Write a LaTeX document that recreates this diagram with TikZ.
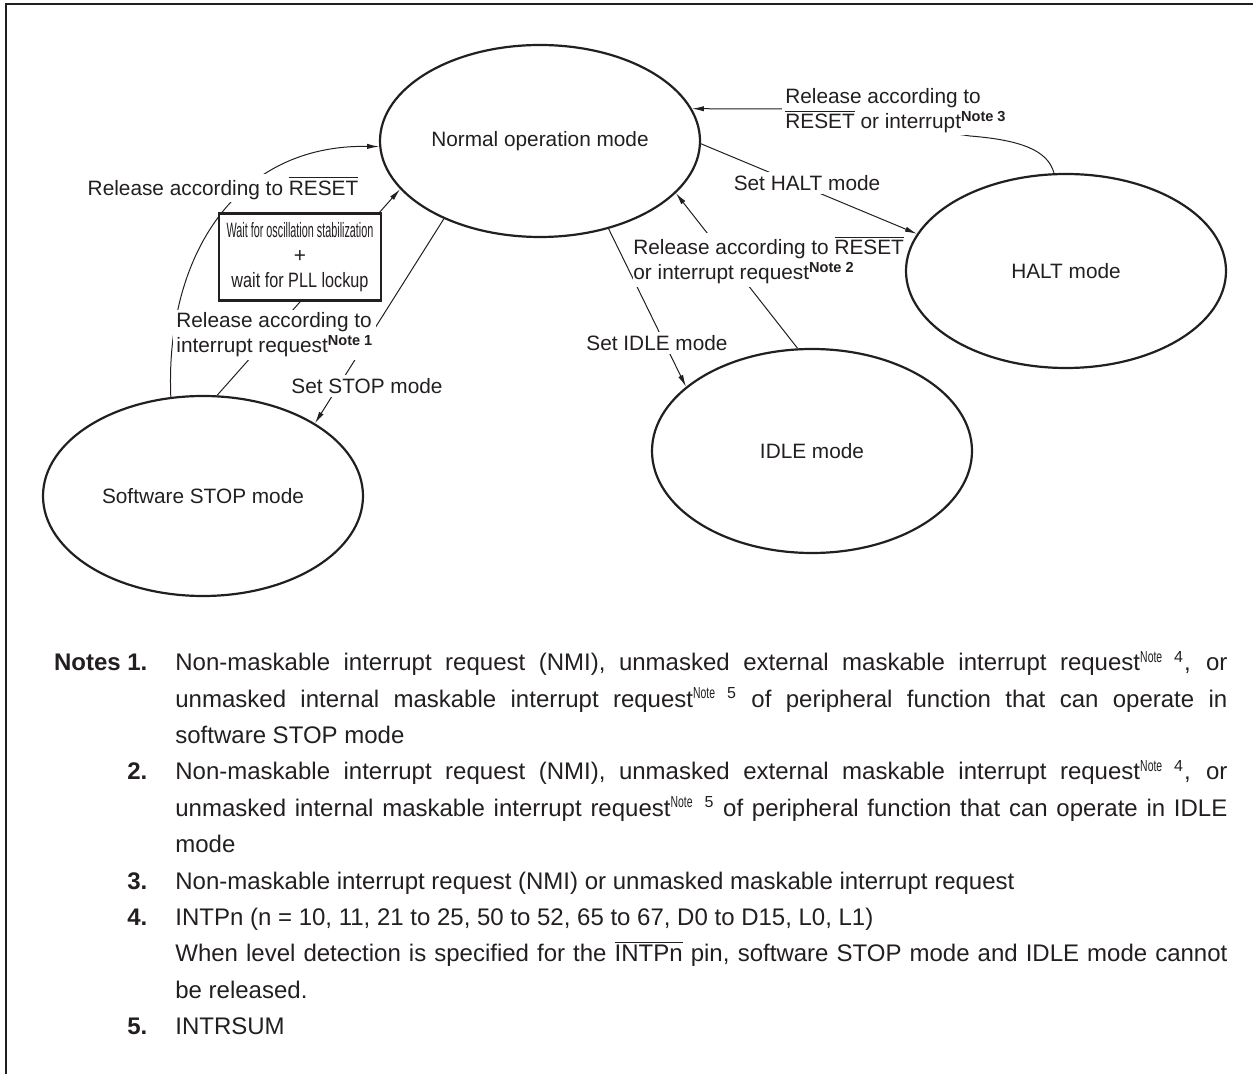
\documentclass[tikz,border=0pt]{standalone}
\usepackage{fontspec}
\setmainfont{Liberation Sans}
\usepackage{graphicx}
\usepackage{tikz}
\usetikzlibrary{positioning,arrows.meta,shapes.geometric}
\definecolor{ink}{HTML}{231F20}
\newcommand{\rst}{$\overline{\mbox{RESET}}$}
\newcommand{\ovlintp}{$\overline{\mbox{INTPn}}$}
\newcommand{\dnote}[1]{\textsuperscript{\bfseries Note~#1}}
\newcommand{\tnote}[1]{\textsuperscript{\scalebox{.65}[1]{Note}\hspace{6pt}#1}}
\newcommand{\noteitem}[2]{%
  \par\hangindent=61pt\hangafter=1\noindent\makebox[47pt][r]{\bfseries #1}\hspace{14pt}#2}
\newcommand{\notecont}[1]{%
  \par\hangindent=61pt\hangafter=0\noindent #1}
\tikzset{
  mode/.style={ellipse,draw=ink,line width=1.1pt,minimum width=160pt,inner sep=0pt,
    font=\fontsize{10.4}{12.5}\selectfont},
  conn/.style={draw=ink,line width=0.5pt},
  arr/.style={conn,-{Latex[length=6pt,width=2.6pt]}},
  lbl/.style={fill=white,inner sep=1.5pt,font=\fontsize{10.4}{12.5}\selectfont},
  waitbox/.style={draw=ink,line width=1.2pt,fill=white,minimum width=81pt,minimum height=43.5pt,
    inner sep=0pt,align=center,font=\fontsize{10.4}{12.5}\selectfont},
  notes/.style={text width=587pt,align=justify,inner sep=0pt,font=\fontsize{12}{18.2}\selectfont}
}

\begin{document}
\begin{tikzpicture}[x=0.5pt,y=-0.5pt,text=ink]
  \useasboundingbox (0,0) rectangle (1253,1074);
  % frame
  \draw[ink,line width=1.2pt] (1260,4) -- (6,4) -- (6,1080);
  % modes
  \node[mode,minimum height=96pt] (normal) at (540,141) {Normal operation mode};
  \node[mode,minimum height=97pt] (halt) at (1066,271) {HALT mode};
  \node[mode,minimum height=102pt] (idle) at (812,451) {IDLE mode};
  \node[mode,minimum height=100pt] (stop) at (203,496) {Software STOP mode};
  % transitions
  \draw[arr] (stop.108) .. controls (165,255) and (237,144) .. (normal.182);
  \draw[arr] (stop.82) -- (normal.199);
  \draw[arr] (normal.219) -- (stop.33);
  \draw[arr] (normal.359) -- (halt.166);
  \draw[arr] (normal.308) -- (idle.153);
  \draw[arr] (idle.98) -- (normal.339);
  \draw[arr] (halt.97) .. controls (1048,150) and (1020,140) .. (970,136) -- (790,109) -- (normal.12);
  % labels
  \node[lbl] (lblreset) at (223,188) {Release according to \rst};
  \node[lbl,anchor=west,align=left] (lblint) at (173,335) {Release according to\\interrupt request\dnote{1}};
  \node[lbl] (lblstop) at (367,386) {Set STOP mode};
  \node[lbl] (lblhalt) at (807,183) {Set HALT mode};
  \node[lbl] (lblidle) at (657,343) {Set IDLE mode};
  \node[lbl,anchor=west,align=left,inner xsep=0pt] (lblidlerel) at (633,260)
    {Release according to \rst\\or interrupt request\dnote{2}};
  \node[lbl,anchor=west,align=left,inner ysep=1pt] (lblhaltrel) at (782,111)
    {Release according to\\\rst{} or interrupt\dnote{3}};
  \node[waitbox] (wait) at (300,257)
    {\scalebox{.52}[1]{Wait for oscillation stabilization}\\+\\\scalebox{.78}[1]{wait for PLL lockup}};
  % notes
  \node[notes,anchor=north west] (notes) at (53,634) {\tolerance=9999\hyphenpenalty=10000
    \noteitem{\rule{0pt}{12pt}Notes 1.}{Non-maskable interrupt request (NMI), unmasked external maskable interrupt request\tnote{4}, or unmasked internal maskable interrupt request\tnote{5} of peripheral function that can operate in\linebreak software STOP mode}%
    \noteitem{2.}{Non-maskable interrupt request (NMI), unmasked external maskable interrupt request\tnote{4}, or unmasked internal maskable interrupt request\tnote{5} of peripheral function that can operate in IDLE\linebreak mode}%
    \noteitem{3.}{Non-maskable interrupt request (NMI) or unmasked maskable interrupt request}%
    \noteitem{4.}{INTPn (n = 10, 11, 21 to 25, 50 to 52, 65 to 67, D0 to D15, L0, L1)}%
    \notecont{When level detection is specified for the \ovlintp{} pin, software STOP mode and IDLE mode cannot\linebreak be released.}%
    \noteitem{5.}{INTRSUM}\par};
\end{tikzpicture}
\end{document}
